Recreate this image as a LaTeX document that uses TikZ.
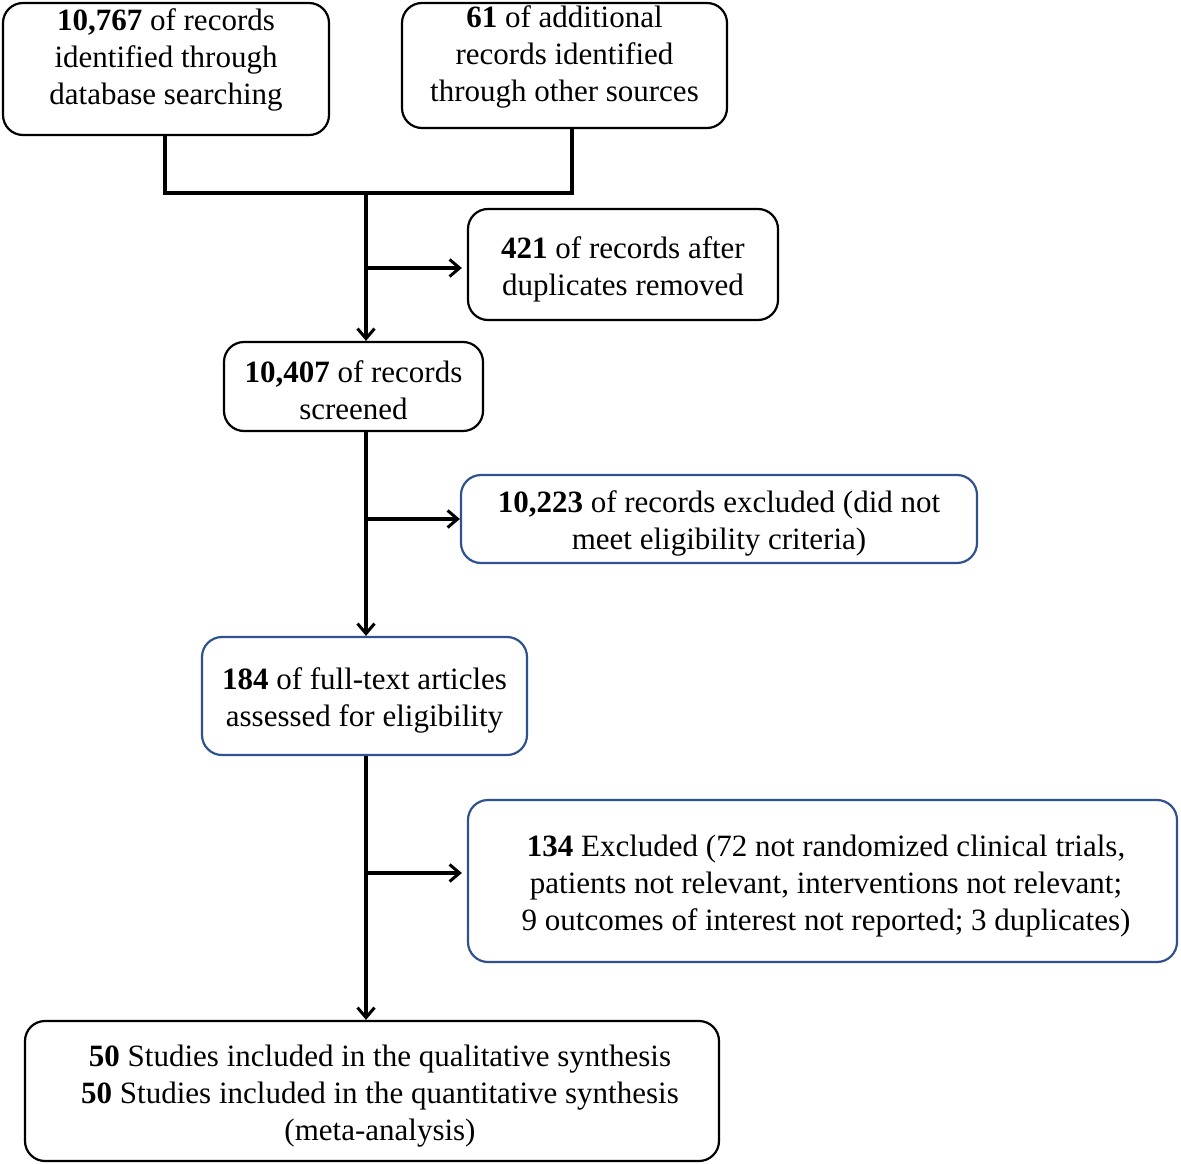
\documentclass[tikz,border=0pt]{standalone}
\usepackage{fontspec}
\setmainfont{Liberation Serif}
\usetikzlibrary{arrows.meta}
\definecolor{bbord}{HTML}{2F528F}
\begin{document}
\begin{tikzpicture}[x=1pt,y=-1pt,
  box/.style={draw=black,line width=2.2pt,rounded corners=20pt,inner sep=0pt},
  bluebox/.style={box,draw=bbord},
  txt/.style={align=center,inner sep=0pt,font=\fontsize{31}{37}\selectfont},
  conn/.style={line width=3.2pt},
  arr/.style={conn,-{Straight Barb[length=10pt,width=17pt,line width=3pt]}}]
\useasboundingbox (0,0) rectangle (1181,1164);
% boxes
\node[box,minimum width=326pt,minimum height=132pt] (b1) at (166,69) {};
\node[txt] (t1) at (166,60) {\textbf{10,767} of records\\identified through\\database searching};
\node[box,minimum width=325pt,minimum height=125pt] (b2) at (564.5,65.5) {};
\node[txt] (t2) at (564.5,57) {\textbf{61} of additional\\records identified\\through other sources};
\node[box,minimum width=310pt,minimum height=111pt] (b421) at (623,264.5) {};
\node[txt] (t421) at (623,269) {\textbf{421} of records after\\duplicates removed};
\node[box,minimum width=259pt,minimum height=89pt] (b3) at (353.5,386.5) {};
\node[txt] (t3) at (353.5,390) {\textbf{10,407} of records\\screened};
\node[bluebox,minimum width=516pt,minimum height=88pt] (b10223) at (719,519) {};
\node[txt] (t10223) at (719,523) {\textbf{10,223} of records excluded (did not\\meet eligibility criteria)};
\node[bluebox,minimum width=325pt,minimum height=118pt] (b184) at (364.5,696) {};
\node[txt] (t184) at (364.5,700) {\textbf{184} of full-text articles\\assessed for eligibility};
\node[bluebox,minimum width=709pt,minimum height=162pt] (b134) at (822.5,881) {};
\node[txt] (t134) at (826,886) {\textbf{134} Excluded (72 not randomized clinical trials,\\patients not relevant, interventions not relevant;\\9 outcomes of interest not reported; 3 duplicates)};
\node[box,minimum width=694pt,minimum height=140pt] (b5) at (372,1091) {};
\node[txt] (t5) at (380,1096) {\textbf{50} Studies included in the qualitative synthesis\\\textbf{50} Studies included in the quantitative synthesis\\(meta-analysis)};
% junction coordinates
\coordinate (j1) at (165,193);
\coordinate (j2) at (572,193);
\coordinate (jm) at (366,193);
\coordinate (k1) at (366,268);
\coordinate (k2) at (366,519);
\coordinate (k3) at (366,873);
% connectors
\draw[conn] (b1.south -| j1) -- (j1) -- (j2) -- (b2.south -| j2);
\draw[arr] (jm) -- (b3.north -| jm);
\draw[arr] (k1) -- ([xshift=-5pt]b421.west |- k1);
\draw[arr] (b3.south -| k2) -- (b184.north -| k2);
\draw[arr] (k2) -- (b10223.west |- k2);
\draw[arr] (b184.south -| k3) -- (b5.north -| k3);
\draw[arr] (k3) -- ([xshift=-5pt]b134.west |- k3);
\end{tikzpicture}
\end{document}
